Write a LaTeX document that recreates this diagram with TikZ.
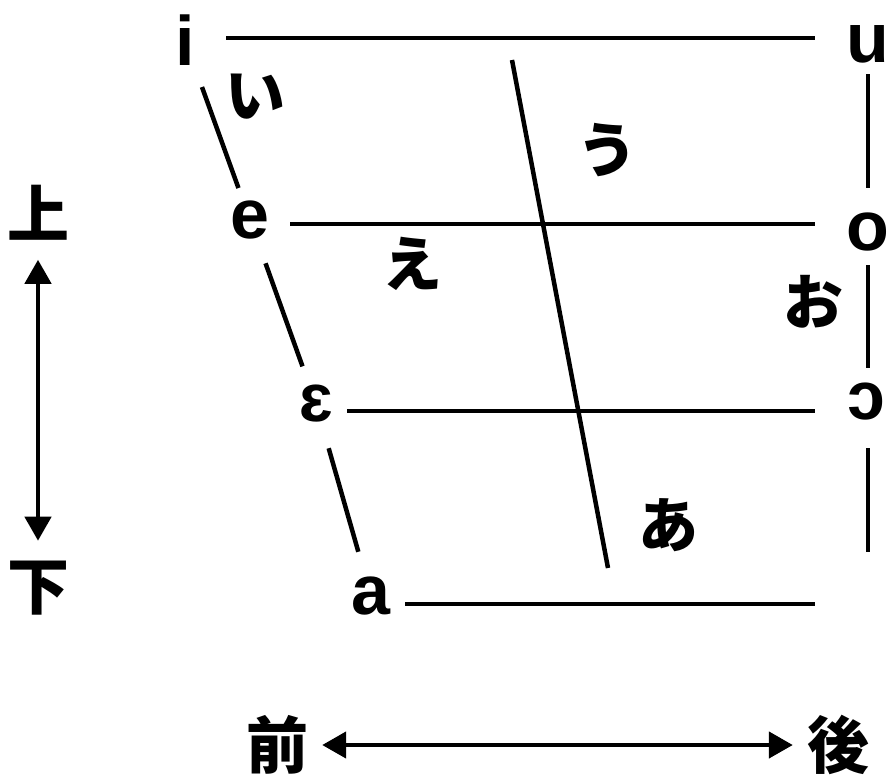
\documentclass[tikz,border=0pt]{standalone}
\usepackage{fontspec}
\setmainfont{Liberation Sans}
\newfontfamily\jpfont{Noto Sans CJK JP}
\usetikzlibrary{arrows.meta}

\tikzset{
  ln/.style={line width=4.5pt},
  vowel/.style={inner sep=0pt,font=\fontsize{70}{70}\selectfont\bfseries},
  ipa/.style={inner sep=0pt,font=\fontsize{68}{68}\selectfont\bfseries},
  kana/.style={inner sep=0pt,font=\jpfont\bfseries\fontsize{60}{60}\selectfont},
  dir/.style={inner sep=0pt,font=\jpfont\bfseries\fontsize{62}{62}\selectfont},
  twoway/.style={line width=4.5pt,{Triangle[length=24pt,width=26pt]}-{Triangle[length=24pt,width=26pt]}}
}

\begin{document}
\begin{tikzpicture}[x=1pt,y=-1pt]
  \useasboundingbox (0,0) rectangle (889,777);

  % front vowels (left edge)
  \node[vowel] (i) at (185,40) {i};
  \node[vowel] (e) at (250,220) {e};
  \node[ipa] (eps) at (316,404) {ɛ};
  \node[vowel] (a) at (371,596) {a};

  % back vowels (right edge)
  \node[vowel] (u) at (868,44) {u};
  \node[vowel] (o) at (868,232) {o};
  \node[ipa] (oo) at (866,402) {ɔ};
  \coordinate (aend) at (815,604);

  % horizontal rows
  \draw[ln] ([shift={(41,-2)}]i.center) -- ([shift={(-53,-6)}]u.center);
  \draw[ln] ([shift={(40,4)}]e.center) -- ([shift={(-53,-8)}]o.center);
  \draw[ln] ([shift={(31,7)}]eps.center) -- ([shift={(-51,9)}]oo.center);
  \draw[ln] ([shift={(34,8)}]a.center) -- (aend);

  % front edge
  \draw[ln,shorten <=50pt,shorten >=34pt] (i.center) -- (e.center);
  \draw[ln,shorten <=46pt,shorten >=40pt] (e.center) -- (eps.center);
  \draw[ln,shorten <=46pt,shorten >=46pt] (eps.center) -- (a.center);

  % back edge
  \draw[ln,shorten <=30pt,shorten >=44pt] (u.center) -- (o.center);
  \draw[ln,shorten <=33pt,shorten >=34pt] (o.center) -- ([xshift=2pt]oo.center);
  \draw[ln] ([shift={(2,46)}]oo.center) -- ++(0,104);

  % middle line
  \coordinate (mtop) at (512,60);
  \coordinate (mbot) at (608,568);
  \draw[ln] (mtop) -- (mbot);

  % kana
  \node[kana] (ki) at (255,97) {い};
  \node[kana] (ku) at (607,150) {う};
  \node[kana] (ke) at (412,264) {え};
  \node[kana] (ko) at (813,302) {お};
  \node[kana] (ka) at (668,525) {あ};

  % axes
  \node[dir] (up) at (38,213) {上};
  \node[dir] (down) at (38,588) {下};
  \draw[twoway,shorten <=19pt,shorten >=20pt] (up) -- (down);
  \node[dir] (front) at (277,745) {前};
  \node[dir] (back) at (838,745) {後};
  \draw[twoway,shorten <=14pt,shorten >=14pt] (front) -- (back);
\end{tikzpicture}
\end{document}
